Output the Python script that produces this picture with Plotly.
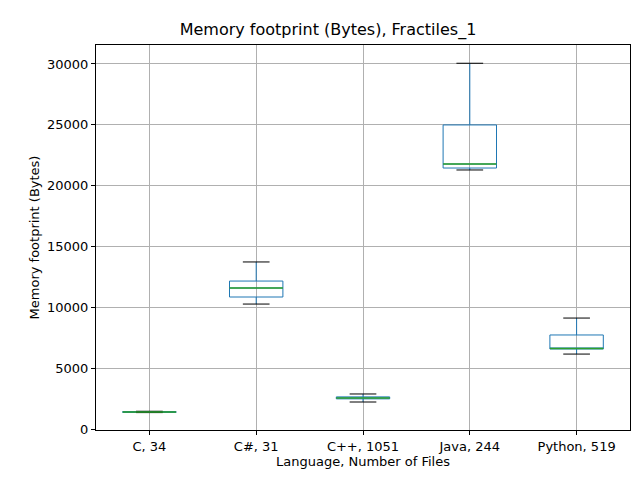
import plotly.graph_objects as go

LANGS = ['C, 34', 'C#, 31', 'C++, 1051', 'Java, 244', 'Python, 519']
LOW = [1350, 10270, 2220, 21290, 6160]
Q1 = [1370, 10850, 2480, 21450, 6580]
MED = [1400, 11590, 2550, 21780, 6620]
Q3 = [1430, 12160, 2640, 24990, 7730]
HIGH = [1460, 13730, 2880, 30060, 9120]

POS = list(range(1, len(LANGS) + 1))
FONT = 'DejaVu Sans'

fig = go.Figure()
fig.add_trace(go.Box(x=POS, q1=Q1, median=MED, q3=Q3, lowerfence=LOW, upperfence=HIGH,
                     width=0.5, whiskerwidth=0, fillcolor='rgba(0,0,0,0)',
                     line=dict(color='#1f77b4', width=1), hoverinfo='skip'))

# medians and whisker caps
mx, my, cx, cy = [], [], [], []
for p, m, lo, hi in zip(POS, MED, LOW, HIGH):
    mx += [p - 0.25, p + 0.25, None]; my += [m, m, None]
    cx += [p - 0.125, p + 0.125, None, p - 0.125, p + 0.125, None]
    cy += [lo, lo, None, hi, hi, None]
fig.add_trace(go.Scatter(x=cx, y=cy, mode='lines', line=dict(color='black', width=1), hoverinfo='skip'))
fig.add_trace(go.Scatter(x=mx, y=my, mode='lines', line=dict(color='#2ca02c', width=1.5), hoverinfo='skip'))

axis = dict(showline=True, linecolor='black', mirror=True, ticks='outside', ticklen=4,
            tickcolor='black', showgrid=True, gridcolor='#b0b0b0', zeroline=False,
            automargin=False, tickfont=dict(size=13, color='black'))
fig.update_xaxes(**axis, range=[0.5, 5.5], tickvals=POS, ticktext=LANGS,
                 title=dict(text='Language, Number of Files', font=dict(size=13), standoff=2))
fig.update_yaxes(**axis, range=[-80, 31560], tickvals=[0, 5000, 10000, 15000, 20000, 25000, 30000],
                 tickformat='d',
                 title=dict(text='Memory footprint (Bytes)', font=dict(size=13), standoff=4))
fig.update_layout(width=640, height=480, showlegend=False,
                  font=dict(family=FONT, size=13, color='black'),
                  paper_bgcolor='white', plot_bgcolor='white',
                  margin=dict(l=88, r=18, t=37, b=58, autoexpand=False),
                  title=dict(text='Memory footprint (Bytes), Fractiles_1', x=0.5, xanchor='center',
                             y=0.955, yanchor='middle', font=dict(size=16)))
fig.write_html('out.html')
